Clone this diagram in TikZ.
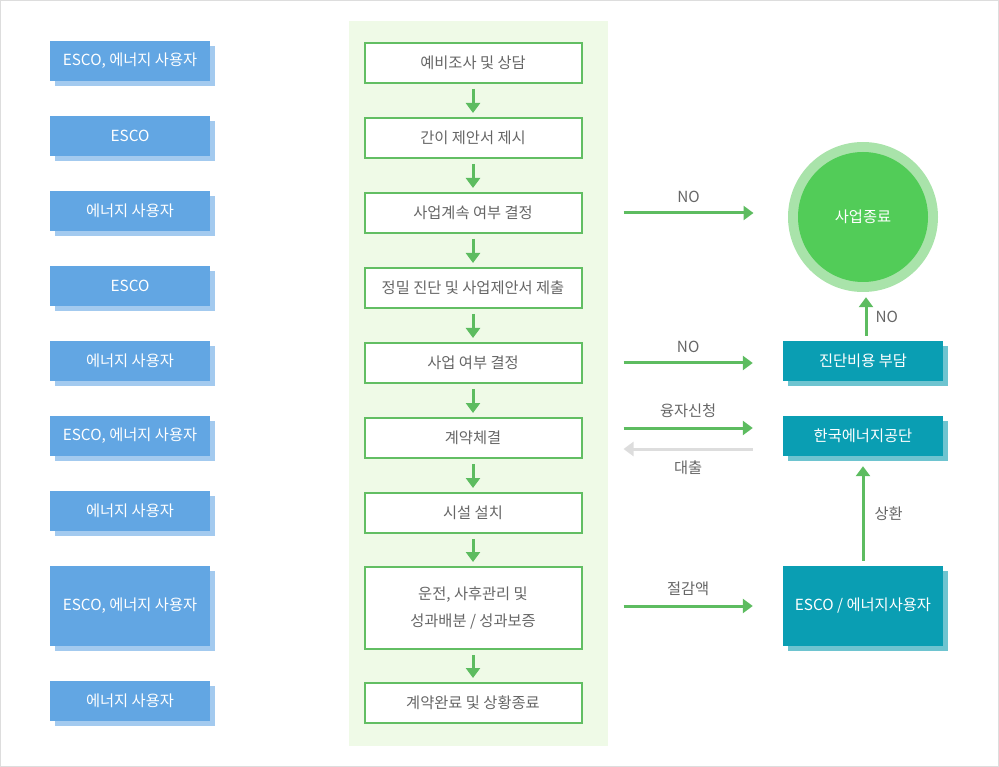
\documentclass[tikz,border=0pt]{standalone}
\usepackage{fontspec}
\setmainfont{Noto Sans CJK KR}
\usetikzlibrary{arrows.meta,shadows,positioning}
\definecolor{RoleBlue}{HTML}{62A6E3}
\definecolor{RoleShade}{HTML}{A3CAEF}
\definecolor{TealBox}{HTML}{0A9EB3}
\definecolor{TealShade}{HTML}{6EC4D0}
\definecolor{PanelGreen}{HTML}{EFFAE7}
\definecolor{StageGreen}{HTML}{62BE63}
\definecolor{FlowGreen}{HTML}{5DBC60}
\definecolor{RingGreen}{HTML}{A9E3AA}
\definecolor{EndGreen}{HTML}{52CC58}
\definecolor{LabelGray}{HTML}{666666}
\definecolor{BackGray}{HTML}{DDDDDD}

\begin{document}
\begin{tikzpicture}[x=1pt,y=-1pt,font=\fontsize{15.3}{20}\selectfont,
		role/.style={fill=RoleBlue, text=white, minimum width=160pt, minimum height=40pt, inner sep=0pt,
			general shadow={fill=RoleShade, shadow xshift=5pt, shadow yshift=-5pt}},
		stage/.style={draw=StageGreen, fill=white, line width=2pt, text=LabelGray, minimum width=217pt, minimum height=40pt, inner sep=0pt, align=center},
		partner/.style={fill=TealBox, text=white, minimum width=160pt, minimum height=40pt, inner sep=0pt,
			general shadow={fill=TealShade, shadow xshift=5pt, shadow yshift=-5pt}},
		flow/.style={draw=FlowGreen, line width=3pt, -{Triangle[width=14pt,length=10pt]}},
		back/.style={draw=BackGray, line width=3pt, -{Triangle[width=14pt,length=10pt]}},
		note/.style={text=LabelGray, inner sep=0pt}]
			\pgfmathsetmacro{\RoleX}{130}
			\pgfmathsetmacro{\StageX}{473}
			\pgfmathsetmacro{\PartnerX}{863}
			\pgfmathsetmacro{\RingRadius}{75}
			\pgfmathsetmacro{\CoreRadius}{65}
			
			% frame and panel
			\useasboundingbox (0,0) rectangle (999,767);
			\draw[BackGray] (0.5,0.5) rectangle (998.5,766.5);
			\fill[PanelGreen] (349,21) rectangle (608,746);
			
			% who does it
			\node[role] (r1) at (\RoleX,61) {ESCO, 에너지 사용자};
			\node[role] (r2) at (\RoleX,136) {ESCO};
			\node[role] (r3) at (\RoleX,211) {에너지 사용자};
			\node[role] (r4) at (\RoleX,286) {ESCO};
			\node[role] (r5) at (\RoleX,361) {에너지 사용자};
			\node[role] (r6) at (\RoleX,436) {ESCO, 에너지 사용자};
			\node[role] (r7) at (\RoleX,511) {에너지 사용자};
			\node[role, minimum height=80pt] (r8) at (\RoleX,606) {ESCO, 에너지 사용자};
			\node[role] (r9) at (\RoleX,701) {에너지 사용자};
			
			% steps
			\node[stage] (s1) at (\StageX,63) {예비조사 및 상담};
			\node[stage] (s2) at (\StageX,138) {간이 제안서 제시};
			\node[stage] (s3) at (\StageX,213) {사업계속 여부 결정};
			\node[stage] (s4) at (\StageX,288) {정밀 진단 및 사업제안서 제출};
			\node[stage] (s5) at (\StageX,363) {사업 여부 결정};
			\node[stage] (s6) at (\StageX,438) {계약체결};
			\node[stage] (s7) at (\StageX,513) {시설 설치};
			\node[stage, minimum height=82pt, font=\fontsize{15.3}{27}\selectfont] (s8) at (\StageX,608) {운전, 사후관리 및\\성과배분 / 성과보증};
			\node[stage] (s9) at (\StageX,703) {계약완료 및 상황종료};
			
			\draw[flow] ([yshift=-5pt]s1.south) -- ([yshift=4pt]s2.north);
			\draw[flow] ([yshift=-5pt]s2.south) -- ([yshift=4pt]s3.north);
			\draw[flow] ([yshift=-5pt]s3.south) -- ([yshift=4pt]s4.north);
			\draw[flow] ([yshift=-5pt]s4.south) -- ([yshift=4pt]s5.north);
			\draw[flow] ([yshift=-5pt]s5.south) -- ([yshift=4pt]s6.north);
			\draw[flow] ([yshift=-5pt]s6.south) -- ([yshift=4pt]s7.north);
			\draw[flow] ([yshift=-5pt]s7.south) -- ([yshift=4pt]s8.north);
			\draw[flow] ([yshift=-5pt]s8.south) -- ([yshift=4pt]s9.north);
			
			% end of project
			\node[circle, fill=RingGreen, minimum size=2*\RingRadius, inner sep=0pt] (ring) at (\PartnerX,217) {};
			\node[circle, fill=EndGreen, text=white, minimum size=2*\CoreRadius, inner sep=0pt] (stop) at (ring.center) {사업종료};
			
			% partners
			\node[partner] (cost) at (\PartnerX,361) {진단비용 부담};
			\node[partner] (kea) at (\PartnerX,436) {한국에너지공단};
			\node[partner, minimum height=80pt] (owner) at (\PartnerX,606) {ESCO / 에너지사용자};
			
			\draw[flow] ([xshift=41pt]s3.east) -- ([xshift=171pt]s3.east) node[note, midway, above=9pt] {NO};
			\draw[flow] ([xshift=41pt]s5.east) -- ([xshift=-30pt,yshift=-2pt]cost.west) node[note, midway, above=9pt] {NO};
			\draw[flow] ([xshift=41pt,yshift=10pt]s6.east) -- ([xshift=-30pt,yshift=8pt]kea.west) node[note, midway, above=9pt] {융자신청};
			\draw[back] ([xshift=-30pt,yshift=-13pt]kea.west) -- ([xshift=41pt,yshift=-11pt]s6.east) node[note, midway, below=10pt] {대출};
			\draw[flow] ([xshift=41pt,yshift=2pt]s8.east) -- ([xshift=-30pt]owner.west) node[note, midway, above=9pt] {절감액};
			
			\draw[flow] ([xshift=3pt,yshift=5pt]cost.north) -- ([xshift=3pt,yshift=-5pt]ring.south) node[note, midway, right=8pt] {NO};
			\draw[flow] ([yshift=5pt]owner.north) -- ([yshift=-10pt]kea.south) node[note, midway, right=10pt] {상환};
		\end{tikzpicture}
\end{document}
